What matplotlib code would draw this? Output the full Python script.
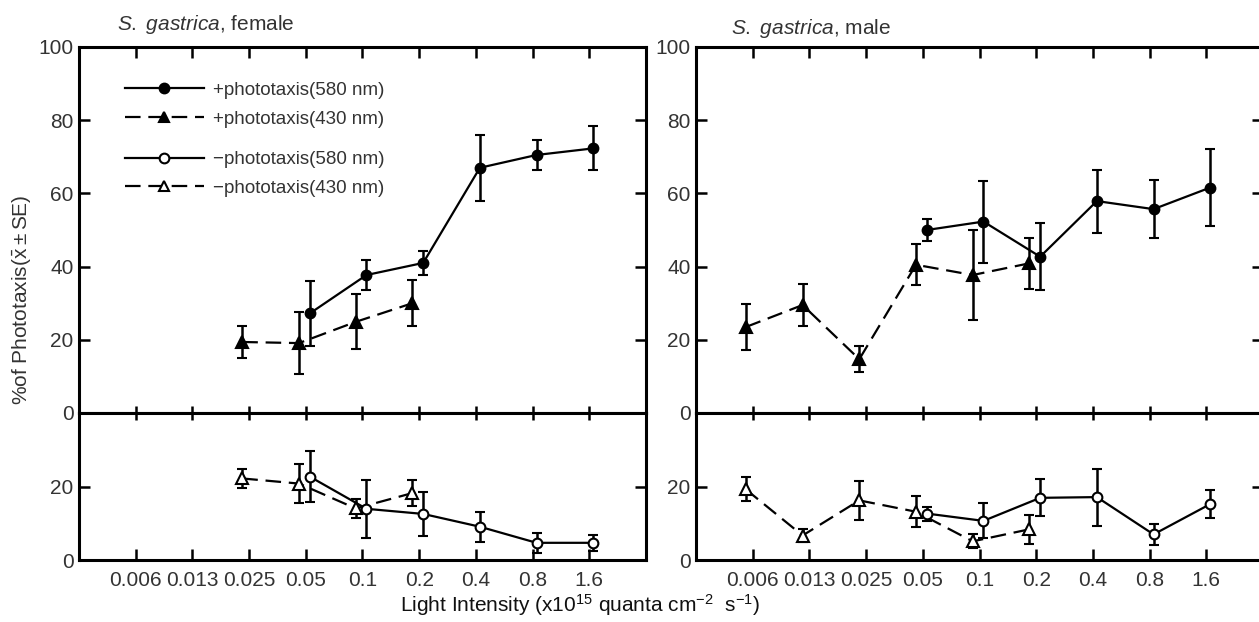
import numpy as np
from matplotlib import pyplot as plt
from matplotlib.lines import Line2D

plt.rcParams['font.family'] = ['Liberation Sans', 'DejaVu Sans']
plt.rcParams['mathtext.fontset'] = 'custom'
plt.rcParams['mathtext.rm'] = 'Liberation Sans'
plt.rcParams['mathtext.it'] = 'Liberation Sans:italic'

# light intensity categories (x10^15 quanta cm-2 s-1)
x_labels = ['0.006', '0.013', '0.025', '0.05', '0.1', '0.2', '0.4', '0.8', '1.6']

# female
f_pos580_x = ['0.05', '0.1', '0.2', '0.4', '0.8', '1.6']
f_pos580 = [27.2, 37.7, 41.0, 67.0, 70.5, 72.3]
f_pos580_se = [9.0, 4.2, 3.2, 9.0, 4.2, 6.0]
f_pos430_x = ['0.025', '0.05', '0.1', '0.2']
f_pos430 = [19.4, 19.1, 24.9, 30.0]
f_pos430_se = [4.4, 8.5, 7.5, 6.3]
f_neg580_x = ['0.05', '0.1', '0.2', '0.4', '0.8', '1.6']
f_neg580 = [22.8, 14.0, 12.6, 9.1, 4.7, 4.7]
f_neg580_se = [6.9, 8.0, 6.1, 4.1, 2.7, 2.2]
f_neg430_x = ['0.025', '0.05', '0.1', '0.2']
f_neg430 = [22.3, 20.9, 14.1, 18.3]
f_neg430_se = [2.6, 5.4, 2.6, 3.6]

# male
m_pos580_x = ['0.05', '0.1', '0.2', '0.4', '0.8', '1.6']
m_pos580 = [50.0, 52.3, 42.7, 57.9, 55.7, 61.6]
m_pos580_se = [3.1, 11.2, 9.2, 8.6, 7.9, 10.6]
m_pos430_x = ['0.006', '0.013', '0.025', '0.05', '0.1', '0.2']
m_pos430 = [23.5, 29.5, 14.7, 40.5, 37.7, 40.9]
m_pos430_se = [6.4, 5.8, 3.5, 5.6, 12.2, 7.0]
m_neg580_x = ['0.05', '0.1', '0.2', '0.4', '0.8', '1.6']
m_neg580 = [12.7, 10.7, 17.0, 17.2, 7.0, 15.3]
m_neg580_se = [1.9, 4.8, 5.1, 7.8, 2.8, 3.9]
m_neg430_x = ['0.006', '0.013', '0.025', '0.05', '0.1', '0.2']
m_neg430 = [19.3, 6.7, 16.3, 13.2, 5.1, 8.4]
m_neg430_se = [3.3, 1.9, 5.3, 4.2, 1.9, 4.0]

CIRC_SHIFT = 0.07
TRI_SHIFT = -0.12
LW = 1.6
SPINE_W = 2.2
TXT = '#333333'


def xpos(labels, shift):
    return np.array([x_labels.index(l) for l in labels]) + shift


def series(ax, xl, y, se, marker, filled, dashed, shift):
    ax.errorbar(xpos(xl, shift), y, yerr=se, color='k', lw=LW,
                ls='--' if dashed else '-', dashes=(7, 3.5) if dashed else (None, None),
                marker=marker, ms=7 if marker == 'o' else 8,
                mfc='k' if filled else 'white', mec='k', mew=1.5,
                capsize=3.5, capthick=1.8, elinewidth=1.8, zorder=3)


def style(ax, top):
    for s in ax.spines.values():
        s.set_linewidth(SPINE_W)
    ax.set_xlim(-1, 9)
    ax.set_xticks(np.arange(len(x_labels)))
    ax.tick_params(axis='both', direction='in', width=1.8, labelsize=15,
                   labelcolor=TXT, right=True, top=True)
    ax.tick_params(axis='y', length=8, pad=4)
    if top:
        ax.set_ylim(0, 100)
        ax.set_yticks([0, 20, 40, 60, 80, 100])
        ax.tick_params(axis='x', which='both', labelbottom=False)
        ax.xaxis.set_tick_params(length=5)
        for t in ax.xaxis.get_major_ticks():
            t.tick2line.set_markersize(8)
    else:
        ax.set_ylim(0, 40.2)
        ax.set_yticks([0, 20])
        ax.set_xticklabels(x_labels)
        ax.xaxis.set_tick_params(length=8, pad=8)
        for t in ax.xaxis.get_major_ticks():
            t.tick2line.set_markersize(5)


fig = plt.figure(figsize=(12.59, 6.22), dpi=100)
W, H = 1259., 622.
lefts = [79 / W, 696 / W]
width = 567 / W
up_b, up_h = (H - 413) / H, 366 / H
lo_b, lo_h = (H - 560) / H, 147 / H

axes = []
for lx in lefts:
    au = fig.add_axes([lx, up_b, width, up_h])
    al = fig.add_axes([lx, lo_b, width, lo_h])
    style(au, True)
    style(al, False)
    axes.append((au, al))

(fu, fl), (mu, ml) = axes

series(fu, f_pos430_x, f_pos430, f_pos430_se, '^', True, True, TRI_SHIFT)
series(fu, f_pos580_x, f_pos580, f_pos580_se, 'o', True, False, CIRC_SHIFT)
series(fl, f_neg430_x, f_neg430, f_neg430_se, '^', False, True, TRI_SHIFT)
series(fl, f_neg580_x, f_neg580, f_neg580_se, 'o', False, False, CIRC_SHIFT)

series(mu, m_pos430_x, m_pos430, m_pos430_se, '^', True, True, TRI_SHIFT)
series(mu, m_pos580_x, m_pos580, m_pos580_se, 'o', True, False, CIRC_SHIFT)
series(ml, m_neg430_x, m_neg430, m_neg430_se, '^', False, True, TRI_SHIFT)
series(ml, m_neg580_x, m_neg580, m_neg580_se, 'o', False, False, CIRC_SHIFT)

# legend, two groups
def handle(marker, filled, dashed):
    return Line2D([], [], color='k', lw=LW, ls='--' if dashed else '-',
                  dashes=(7, 3.5) if dashed else (None, None),
                  marker=marker, ms=7, mfc='k' if filled else 'white', mec='k', mew=1.5)

leg_kw = dict(frameon=False, loc='upper left', fontsize=13.5, handlelength=4.2,
              handletextpad=0.5, borderpad=0, borderaxespad=0, labelspacing=0.62,
              labelcolor=TXT)
leg1 = fu.legend([handle('o', True, False), handle('^', True, True)],
                 ['+phototaxis(580 nm)', '+phototaxis(430 nm)'],
                 bbox_to_anchor=(0.081, 0.905), **leg_kw)
fu.add_artist(leg1)
fu.legend([handle('o', False, False), handle('^', False, True)],
          ['\u2212phototaxis(580 nm)', '\u2212phototaxis(430 nm)'],
          bbox_to_anchor=(0.081, 0.716), **leg_kw)

fig.text(117 / W, 1 - 24 / H, r'$\mathit{S.\ gastrica}$, female', fontsize=15,
         color=TXT, ha='left', va='center')
fig.text(731 / W, 1 - 28 / H, r'$\mathit{S.\ gastrica}$, male', fontsize=15,
         color=TXT, ha='left', va='center')
fig.text(22 / W, 1 - 300 / H, r'%of Phototaxis($\bar{\mathrm{x}}\pm$SE)', fontsize=15,
         color=TXT, rotation=90, ha='center', va='center')
fig.text(580 / W, 1 - 605 / H,
         r'Light Intensity (x10$^{15}$ quanta cm$^{-2}$  s$^{-1}$)', fontsize=15,
         color='#111111', ha='center', va='center')

plt.savefig('out.png', dpi=100)
